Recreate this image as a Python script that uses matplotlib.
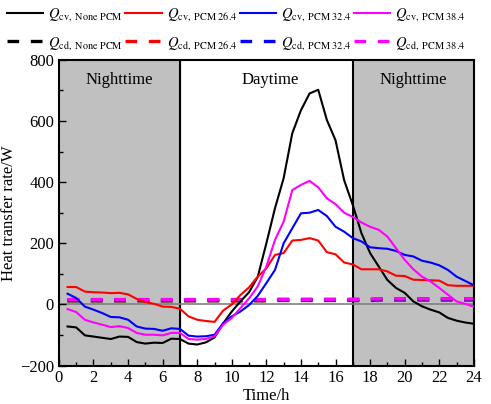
import numpy as np
import matplotlib
matplotlib.use("Agg")
import matplotlib.pyplot as plt
from matplotlib.ticker import MultipleLocator

plt.rcParams['font.family'] = ['Liberation Serif', 'DejaVu Serif']
plt.rcParams['mathtext.fontset'] = 'stix'

# half-hourly time steps
hours = np.arange(0.5, 24.01, 0.5)

# convective heat transfer rate (W)
qcv_none = [-72, -75, -101, -105, -109, -113, -105, -106, -123, -128, -125, -126,
            -112, -113, -128, -131, -124, -108, -62, -23, 10, 40, 90, 200,
            315, 413, 560, 635, 690, 702, 603, 537, 406, 325, 233, 168,
            124, 80, 54, 38, 10, -6, -17, -26, -44, -53, -59, -63]
qcv_264 = [57, 57, 42, 40, 39, 37, 38, 33, 18, 8, 2, -7,
           -8, -14, -39, -50, -54, -57, -20, 0, 31, 56, 91, 118,
           162, 168, 209, 211, 217, 209, 171, 164, 137, 131, 115, 115,
           115, 108, 94, 93, 81, 80, 79, 78, 63, 61, 61, 61]
qcv_324 = [35, 21, -7, -17, -28, -41, -42, -50, -72, -79, -80, -86,
           -78, -80, -102, -105, -104, -99, -61, -39, -23, -2, 28, 70,
           113, 200, 249, 298, 300, 309, 289, 254, 238, 217, 206, 187,
           184, 182, 175, 162, 157, 143, 137, 128, 113, 91, 77, 63]
qcv_384 = [-15, -25, -50, -59, -66, -74, -71, -77, -93, -99, -99, -101,
           -93, -93, -113, -115, -113, -104, -66, -44, -12, 20, 59, 124,
           211, 271, 374, 391, 404, 383, 347, 328, 300, 286, 268, 254,
           244, 222, 184, 146, 115, 91, 75, 54, 32, 10, 2, -7]

# conductive heat transfer rate (W)
qcd_none = [12] * 24 + [13] * 12 + [15] * 12
qcd_264 = [13] * 24 + [14] * 12 + [16] * 12
qcd_324 = [15] * 24 + [16] * 12 + [18] * 12
qcd_384 = [16] * 24 + [17] * 12 + [19] * 12

colors = ['black', 'red', 'blue', 'magenta']
names = [r'None\ PCM', r'PCM\ 26.4', r'PCM\ 32.4', r'PCM\ 38.4']
cv_series = [qcv_none, qcv_264, qcv_324, qcv_384]
cd_series = [qcd_none, qcd_264, qcd_324, qcd_384]

fig = plt.figure(figsize=(4.91, 4.04), dpi=100)
ax = fig.add_axes([0.120, 0.095, 0.845, 0.757])

# night shading
ax.axvspan(0, 7, color='#c0c0c0', zorder=0)
ax.axvspan(17, 24, color='#c0c0c0', zorder=0)
ax.axvline(7, color='black', lw=1.5, zorder=1)
ax.axvline(17, color='black', lw=1.5, zorder=1)
ax.axhline(0, color='gray', lw=1.2, zorder=1)

handles = []
for c, n, cv, cd in zip(colors, names, cv_series, cd_series):
    h1, = ax.plot(hours, cv, color=c, lw=1.5, zorder=3,
                  label=r'$Q_{\rm cv,\ ' + n + '}$')
    h2, = ax.plot(hours, cd, color=c, lw=2.4, ls=(0, (3.5, 3.5)), zorder=2,
                  label=r'$Q_{\rm cd,\ ' + n + '}$')
    handles += [h1, h2]

ax.text(3.5, 735, 'Nighttime', ha='center', va='center', fontsize=12)
ax.text(12.2, 735, 'Daytime', ha='center', va='center', fontsize=12)
ax.text(20.5, 735, 'Nighttime', ha='center', va='center', fontsize=12)

ax.set_xlim(0, 24)
ax.set_ylim(-200, 800)
ax.xaxis.set_major_locator(MultipleLocator(2))
ax.xaxis.set_minor_locator(MultipleLocator(1))
ax.yaxis.set_major_locator(MultipleLocator(200))
ax.yaxis.set_minor_locator(MultipleLocator(100))
ax.tick_params(which='both', direction='in', labelsize=12, width=1)
ax.tick_params(which='major', length=5)
ax.tick_params(which='minor', length=3)
for s in ax.spines.values():
    s.set_linewidth(1.5)

ax.set_xlabel('Time/h', fontsize=12, labelpad=1)
ax.set_ylabel('Heat transfer rate/W', fontsize=12, labelpad=2)

fig.legend(handles=handles, ncol=4, loc='upper left', bbox_to_anchor=(0.005, 0.995),
           frameon=False, fontsize=10.5, handlelength=2.5, handletextpad=0.35,
           columnspacing=0.15, labelspacing=0.8, borderaxespad=0.1,
           borderpad=0.2)

fig.savefig('out.png', dpi=100)
